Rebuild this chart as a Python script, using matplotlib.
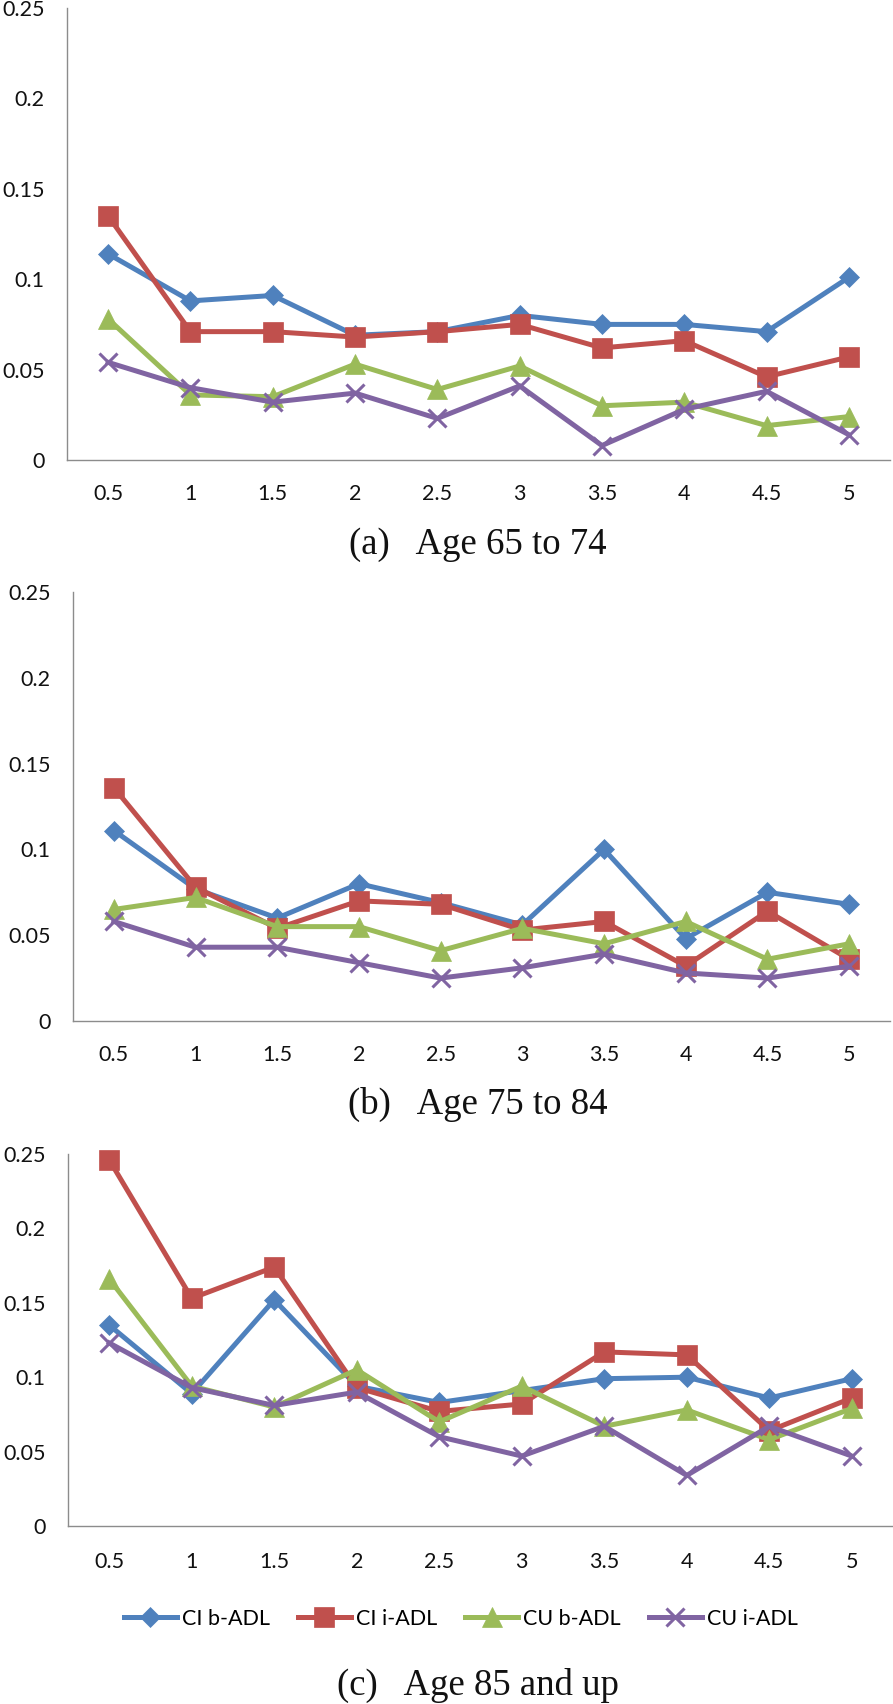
import matplotlib
matplotlib.use("Agg")
import matplotlib.pyplot as plt
from matplotlib.lines import Line2D

categories = ["0.5", "1", "1.5", "2", "2.5", "3", "3.5", "4", "4.5", "5"]
series_names = ["CI b-ADL", "CI i-ADL", "CU b-ADL", "CU i-ADL"]

blue_a = [0.114, 0.088, 0.091, 0.069, 0.071, 0.080, 0.075, 0.075, 0.071, 0.101]
red_a = [0.135, 0.071, 0.071, 0.068, 0.071, 0.075, 0.062, 0.066, 0.046, 0.057]
green_a = [0.078, 0.036, 0.035, 0.053, 0.039, 0.052, 0.030, 0.032, 0.019, 0.024]
purple_a = [0.054, 0.040, 0.032, 0.037, 0.023, 0.041, 0.008, 0.028, 0.038, 0.014]

blue_b = [0.111, 0.077, 0.060, 0.080, 0.069, 0.056, 0.100, 0.048, 0.075, 0.068]
red_b = [0.136, 0.078, 0.054, 0.070, 0.068, 0.053, 0.058, 0.032, 0.064, 0.036]
green_b = [0.065, 0.072, 0.055, 0.055, 0.041, 0.054, 0.045, 0.058, 0.036, 0.045]
purple_b = [0.058, 0.043, 0.043, 0.034, 0.025, 0.031, 0.039, 0.028, 0.025, 0.032]

blue_c = [0.135, 0.089, 0.152, 0.094, 0.083, 0.091, 0.099, 0.100, 0.086, 0.099]
red_c = [0.246, 0.153, 0.174, 0.093, 0.077, 0.082, 0.117, 0.115, 0.064, 0.086]
green_c = [0.166, 0.094, 0.080, 0.105, 0.070, 0.094, 0.067, 0.078, 0.058, 0.079]
purple_c = [0.123, 0.093, 0.081, 0.090, 0.060, 0.047, 0.067, 0.034, 0.067, 0.047]

y_ticks = [0, 0.05, 0.1, 0.15, 0.2, 0.25]
y_tick_labels = ["0", "0.05", "0.1", "0.15", "0.2", "0.25"]

captions = ["(a)   Age 65 to 74", "(b)   Age 75 to 84", "(c)   Age 85 and up"]

colors = ["#4F81BD", "#C0504D", "#9BBB59", "#8064A2"]
markers = ["D", "s", "^", "x"]
msizes = [10.5, 14, 15, 13.5]
LW = 3.6

W, H = 893, 1704
fig = plt.figure(figsize=(W / 100, H / 100), dpi=100)

# axes rects in pixels: left, right, top, bottom
rects = [(67, 890, 8, 460), (73, 890, 592, 1021), (68, 893, 1154, 1526)]
xpads = [17, 17, 19]
caption_y = [545, 1104, 1685]
panels = [
    [blue_a, red_a, green_a, purple_a],
    [blue_b, red_b, green_b, purple_b],
    [blue_c, red_c, green_c, purple_c],
]

tick_font = "Lato"
x = list(range(len(categories)))
for (l, r, t, b), data, xp, cy, cap in zip(rects, panels, xpads, caption_y, captions):
    ax = fig.add_axes([l / W, 1 - b / H, (r - l) / W, (b - t) / H])
    for vals, c, m, ms in zip(data, colors, markers, msizes):
        ax.plot(x, vals, color=c, lw=LW, marker=m, ms=ms,
                mew=2.2 if m == "x" else 0.5, mec=c, mfc=c,
                solid_joinstyle="miter", clip_on=False)
    ax.set_xlim(-0.5, len(categories) - 0.5)
    ax.set_ylim(0, 0.25)
    ax.set_yticks(y_ticks)
    ax.set_yticklabels(y_tick_labels)
    ax.set_xticks(x)
    ax.set_xticklabels(categories)
    for s in ["top", "right"]:
        ax.spines[s].set_visible(False)
    for s in ["left", "bottom"]:
        ax.spines[s].set_color("#8C8C8C")
        ax.spines[s].set_linewidth(1.0)
    ax.tick_params(axis="y", length=0, pad=16, labelsize=15.5, labelcolor="#111111")
    ax.tick_params(axis="x", length=0, pad=xp, labelsize=15.5, labelcolor="#111111")
    for lab in ax.get_xticklabels() + ax.get_yticklabels():
        lab.set_fontfamily(tick_font)
    fig.text(478 / W, 1 - cy / H, cap, ha="center", va="center",
             fontfamily="Liberation Serif", fontsize=26.5, color="#111111")

handles = [Line2D([0], [0], color=c, lw=LW, marker=m, ms=ms,
                  mew=2.2 if m == "x" else 0.5, mec=c, mfc=c)
           for c, m, ms in zip(colors, markers, msizes)]
fig.legend(handles, series_names, loc="center", bbox_to_anchor=(461 / W, 1 - 1619 / H),
           ncol=4, frameon=False, prop={"family": "Lato", "size": 15.5},
           handlelength=2.45, handletextpad=0.25, columnspacing=1.3)

fig.savefig("out.png", dpi=100)
